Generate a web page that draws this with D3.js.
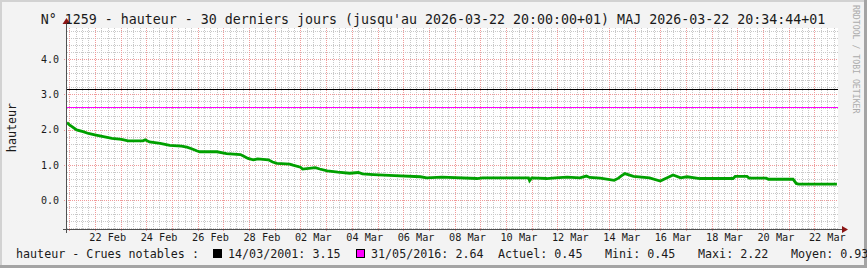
<!DOCTYPE html>
<html>
<head>
<meta charset="utf-8">
<script src="https://d3js.org/d3.v7.min.js"></script>
<style>
  body { margin: 0; background: #f3f3f3; }
  svg text { font-family: "DejaVu Sans Mono", monospace; fill: #1a1a1a; }
</style>
</head>
<body>
<div id="container"></div>
<script>
// Hard Code values ---------- ---------- ----------
let canvasW = 867, canvasH = 268;
let title = "N° 1259 - hauteur - 30 derniers jours (jusqu'au 2026-03-22 20:00:00+01) MAJ 2026-03-22 20:34:44+01";
let plotL = 67, plotR = 838, plotT = 28, plotB = 229;

// graph clock: the 30 day window, day lines fall 2h after the start
let startTime = Date.UTC(2026, 1, 20, 22), endTime = Date.UTC(2026, 2, 22, 22);

// Data ---------- ---------- ----------
// hours since window start / water height (m)
let heures  = [0, 2, 5, 9, 15, 20, 26, 34, 42, 51, 57, 71, 73, 77, 87, 96, 107, 112, 117, 121, 124,
               140, 149, 162, 166, 169, 174, 178, 188, 192, 196, 208, 211, 218, 220, 232, 236, 243,
               253, 264, 272, 276, 286, 306, 330, 336, 350, 383, 388, 431, 432, 434, 448, 456, 467,
               479, 485, 488, 498, 511, 515, 518, 521, 529, 544, 554, 566, 573, 579, 591, 622, 624, 635,
               637, 653, 655, 678, 681, 683, 697, 708, 719];
let hauteur = [2.20, 2.14, 2.08, 1.99, 1.94, 1.89, 1.85, 1.80, 1.75, 1.72, 1.68, 1.68, 1.71, 1.65, 1.61, 1.55, 1.53, 1.50, 1.45, 1.40, 1.37,
               1.37, 1.32, 1.29, 1.23, 1.18, 1.14, 1.17, 1.14, 1.08, 1.04, 1.02, 0.99, 0.93, 0.88, 0.92, 0.88, 0.83,
               0.79, 0.76, 0.78, 0.74, 0.72, 0.69, 0.66, 0.63, 0.65, 0.61, 0.63, 0.63, 0.55, 0.63, 0.61, 0.63, 0.65,
               0.63, 0.68, 0.64, 0.62, 0.56, 0.62, 0.69, 0.75, 0.67, 0.63, 0.54, 0.71, 0.63, 0.66, 0.61, 0.61, 0.67, 0.67,
               0.62, 0.62, 0.59, 0.59, 0.47, 0.45, 0.45, 0.45, 0.45];

// notable floods (horizontal rules)
let crueDates  = ["14/03/2001", "31/05/2016"];
let crueValues = [3.15, 2.64];
let crueColors = ["#000000", "#ff00ff"];

// summary
let statNames  = ["Actuel", "Mini", "Maxi", "Moyen"];
let statValues = [0.45, 0.45, 2.22, 0.93];

// axes
let yTicks = [0, 1, 2, 3, 4];
let xTickLabels = ["22 Feb", "24 Feb", "26 Feb", "28 Feb", "02 Mar", "04 Mar", "06 Mar", "08 Mar",
                   "10 Mar", "12 Mar", "14 Mar", "16 Mar", "18 Mar", "20 Mar", "22 Mar"];
let xTickDays   = ["2026-02-22", "2026-02-24", "2026-02-26", "2026-02-28", "2026-03-02", "2026-03-04",
                   "2026-03-06", "2026-03-08", "2026-03-10", "2026-03-12", "2026-03-14", "2026-03-16",
                   "2026-03-18", "2026-03-20", "2026-03-22"];

//Initialize ---------- ---------- ----------
let svg = d3.select("#container").append("svg").attr("width", canvasW).attr("height", canvasH);
let x = d3.scaleUtc().domain([new Date(startTime), new Date(endTime)]).range([plotL, plotR]);
let y = d3.scaleLinear().domain([-0.824, 4.886]).range([plotB, plotT]);
let px = v => Math.round(v) + 0.5;

// Frame ---------- ---------- ----------
svg.append("rect").attr("x", 0).attr("y", 0).attr("width", canvasW).attr("height", canvasH).attr("fill", "#f3f3f3");
svg.append("rect").attr("x", 0).attr("y", 0).attr("width", canvasW).attr("height", 2).attr("fill", "#d2d2d2");
svg.append("rect").attr("x", 0).attr("y", 0).attr("width", 2).attr("height", canvasH).attr("fill", "#d2d2d2");
svg.append("rect").attr("x", canvasW - 3).attr("y", 0).attr("width", 3).attr("height", canvasH).attr("fill", "#a4a4a4");
svg.append("rect").attr("x", 0).attr("y", canvasH - 3).attr("width", canvasW).attr("height", 3).attr("fill", "#a4a4a4");

// Plot box ---------- ---------- ----------
svg.append("rect").attr("x", plotL).attr("y", plotT).attr("width", plotR - plotL).attr("height", plotB - plotT).attr("fill", "#ffffff");

// Grid ---------- ---------- ----------
let grid = svg.append("g").attr("shape-rendering", "crispEdges").attr("stroke-dasharray", "1,1");
let minorX = d3.utcHour.every(6).range(new Date(startTime), new Date(endTime)).filter(d => d.getUTCHours() != 0);
let majorX = d3.utcDay.range(new Date(startTime), new Date(endTime));
let minorY = d3.range(-4, 25).map(i => i * 0.2).filter(v => Math.abs(v - Math.round(v)) > 0.01);

grid.selectAll(".minorX").data(minorX).enter().append("line")
    .attr("x1", d => px(x(d))).attr("x2", d => px(x(d))).attr("y1", plotT).attr("y2", plotB)
    .attr("stroke", "#c8c8c8");
grid.selectAll(".minorY").data(minorY).enter().append("line")
    .attr("x1", plotL).attr("x2", plotR).attr("y1", d => px(y(d))).attr("y2", d => px(y(d)))
    .attr("stroke", "#c8c8c8");
grid.selectAll(".majorX").data(majorX).enter().append("line")
    .attr("x1", d => px(x(d))).attr("x2", d => px(x(d))).attr("y1", plotT).attr("y2", plotB + 2)
    .attr("stroke", "#f09a9a");
grid.selectAll(".majorY").data(yTicks).enter().append("line")
    .attr("x1", plotL - 3).attr("x2", plotR).attr("y1", d => px(y(d))).attr("y2", d => px(y(d)))
    .attr("stroke", "#f09a9a");

// Crues notables ---------- ---------- ----------
svg.selectAll(".crue").data(crueValues).enter().append("line")
    .attr("shape-rendering", "crispEdges")
    .attr("x1", plotL).attr("x2", plotR)
    .attr("y1", d => px(y(d))).attr("y2", d => px(y(d)))
    .attr("stroke", (d, i) => crueColors[i]).attr("stroke-width", 1);

// Hauteur line ---------- ---------- ----------
let points = heures.map((h, i) => [new Date(startTime + h * 3600000), hauteur[i]]);
let line = d3.line().x(d => x(d[0])).y(d => y(d[1]));
svg.append("path").datum(points)
    .attr("d", line)
    .attr("fill", "none").attr("stroke", "#00a000").attr("stroke-width", 2.8)
    .attr("stroke-linejoin", "miter");

// Axes ---------- ---------- ----------
let axis = svg.append("g").attr("shape-rendering", "crispEdges");
axis.append("line").attr("x1", plotL - 4).attr("x2", plotR + 5).attr("y1", px(plotB)).attr("y2", px(plotB))
    .attr("stroke", "#505050");
axis.append("line").attr("x1", px(plotL - 1)).attr("x2", px(plotL - 1)).attr("y1", plotB + 4).attr("y2", plotT - 5)
    .attr("stroke", "#505050");
svg.append("path").attr("d", "M" + (plotR + 4) + "," + (plotB - 3) + " L" + (plotR + 10) + "," + (plotB + 0.5) + " L" + (plotR + 4) + "," + (plotB + 4) + "Z")
    .attr("fill", "#8b1414");
svg.append("path").attr("d", "M" + (plotL - 4.5) + "," + (plotT - 4) + " L" + (plotL - 0.5) + "," + (plotT - 10) + " L" + (plotL + 3.5) + "," + (plotT - 4) + "Z")
    .attr("fill", "#8b1414");

// Tick labels
svg.selectAll(".ylab").data(yTicks).enter().append("text")
    .attr("x", 59).attr("y", d => y(d) + 3.8)
    .attr("text-anchor", "end").attr("font-size", "10px")
    .text(d => d.toFixed(1));
svg.selectAll(".xlab").data(xTickLabels).enter().append("text")
    .attr("x", (d, i) => x(new Date(Date.parse(xTickDays[i] + "T12:00:00Z"))))
    .attr("y", 241)
    .attr("text-anchor", "middle").attr("font-size", "10.2px")
    .text(d => d);

// Titles ---------- ---------- ----------
svg.append("text").attr("x", 433).attr("y", 23.5).attr("text-anchor", "middle")
    .attr("font-size", "13.3px").text(title);
svg.append("text").attr("transform", "translate(15.5,127.5) rotate(-90)").attr("text-anchor", "middle")
    .attr("font-size", "11.7px").text("hauteur");
svg.append("text").attr("transform", "translate(853,5) rotate(90)")
    .attr("font-size", "8.2px").style("fill", "#ababab").text("RRDTOOL / TOBI OETIKER");

// Legend ---------- ---------- ----------
let legY = 257.5, legFont = "11.7px";
svg.append("text").attr("x", 16).attr("y", legY).attr("font-size", legFont).text("hauteur - Crues notables :");
let crueX = [213, 356];
crueDates.forEach((d, i) => {
    svg.append("rect").attr("x", crueX[i] + 0.5).attr("y", 249.5).attr("width", 8).attr("height", 8)
        .attr("fill", crueColors[i]).attr("stroke", "#000000").attr("shape-rendering", "crispEdges");
    svg.append("text").attr("x", crueX[i] + 15).attr("y", legY).attr("font-size", legFont)
        .text(d + ": " + crueValues[i].toFixed(2));
});
let statX = [498, 605, 698, 791];
statNames.forEach((n, i) => {
    svg.append("text").attr("x", statX[i]).attr("y", legY).attr("font-size", legFont)
        .text(n + ": " + statValues[i].toFixed(2));
});
</script>
</body>
</html>
